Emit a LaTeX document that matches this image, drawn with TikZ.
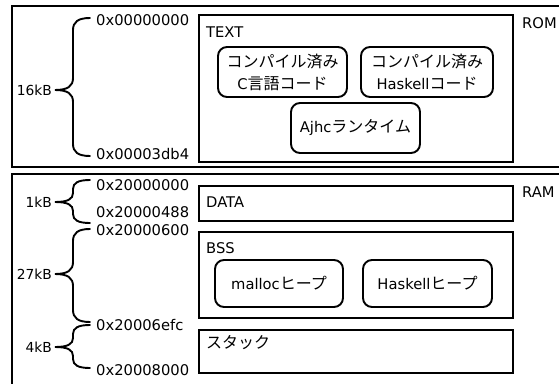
\documentclass[tikz,border=0pt]{standalone}
\usepackage{fontspec}
\setmainfont{DejaVu Sans}[Scale=0.92]
\newfontfamily\jp{Noto Sans CJK JP}
\newcommand\mybrace[4]{%
  \draw[bracepath] (90,#1) .. controls (78,#1) and (73,#1+#4/3) .. (73,#1+#4)
    -- (73,#3-#4) .. controls (73,#3-#4/3) and (68,#3) .. (55,#3)
    .. controls (68,#3) and (73,#3+#4/3) .. (73,#3+#4)
    -- (73,#2-#4) .. controls (73,#2-#4/3) and (78,#2) .. (90,#2);}
\begin{document}
\begin{tikzpicture}[x=1pt,y=-1pt,
  every node/.style={font=\fontsize{16}{22}\selectfont, inner sep=0pt},
  frame/.style={line width=2.2pt},
  segbox/.style={draw, line width=1.9pt, anchor=north west},
  roundbox/.style={draw, line width=1.9pt, rounded corners=9pt, align=center},
  addr/.style={anchor=west},
  sizelbl/.style={anchor=east, font=\fontsize{15}{18}\selectfont},
  seglbl/.style={anchor=west},
  bracepath/.style={line width=1.9pt, line cap=round}]
\useasboundingbox (0,0) rectangle (559,383);
\clip (0,0) rectangle (559,383);
% outer frames
\draw[frame] (570,6) -- (12,6) -- (12,167) -- (570,167);
\draw[frame] (570,174) -- (12,174) -- (12,395);
\node[anchor=west] (rom) at (522,23) {ROM};
\node[anchor=west] (ram) at (522,192) {RAM};
% ROM segment
\node[segbox, minimum width=314, minimum height=147] (text) at (198,14) {};
\node[seglbl] (textlbl) at (206,32) {TEXT};
\node[roundbox, minimum width=129, minimum height=50] (cbox) at (282.5,72) {{\jp コンパイル済み}\\C{\jp 言語コード}};
\node[roundbox, minimum width=132, minimum height=50] (hbox) at (427,72) {{\jp コンパイル済み}\\Haskell{\jp コード}};
\node[roundbox, minimum width=129, minimum height=50] (rts) at (355.5,128) {Ajhc{\jp ランタイム}};
% RAM segments
\node[segbox, minimum width=314, minimum height=35] (data) at (198,185) {};
\node[seglbl] (datalbl) at (206,202) {DATA};
\node[segbox, minimum width=314, minimum height=86] (bss) at (198,231) {};
\node[seglbl] (bsslbl) at (206,248) {BSS};
\node[roundbox, minimum width=128, minimum height=47] (mheap) at (279,283.5) {malloc{\jp ヒープ}};
\node[roundbox, minimum width=129, minimum height=47] (hheap) at (427.5,283.5) {Haskell{\jp ヒープ}};
\node[segbox, minimum width=314, minimum height=43] (stack) at (198,329) {};
\node[seglbl] (stacklbl) at (206,343) {\jp スタック};
% addresses
\node[addr] (a1) at (96,20) {0x00000000};
\node[addr] (a2) at (96,154) {0x00003db4};
\node[addr] (a3) at (96,185) {0x20000000};
\node[addr] (a4) at (96,212) {0x20000488};
\node[addr] (a5) at (96,230) {0x20000600};
\node[addr] (a6) at (96,325) {0x20006efc};
\node[addr] (a7) at (96,370) {0x20008000};
% sizes
\node[sizelbl] (s1) at (52,90) {16kB};
\node[sizelbl] (s2) at (52,202) {1kB};
\node[sizelbl] (s3) at (52,274) {27kB};
\node[sizelbl] (s4) at (52,347) {4kB};
% braces
\mybrace{18}{156}{90}{12}
\mybrace{180}{223}{202}{9}
\mybrace{229}{322}{274}{12}
\mybrace{325}{368}{347}{9}
\end{tikzpicture}
\end{document}
